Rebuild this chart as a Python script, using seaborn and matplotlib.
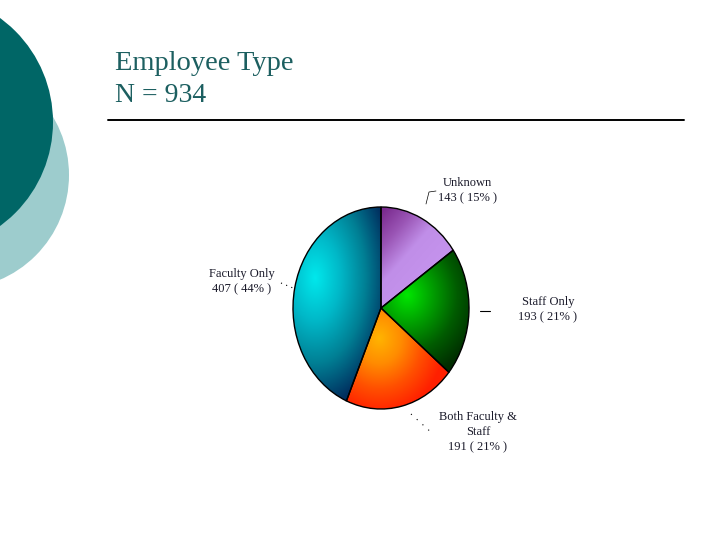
import numpy as np
import matplotlib
matplotlib.use('Agg')
import matplotlib.pyplot as plt
from matplotlib.patches import Circle
import seaborn as sns

title_lines = ['Employee Type', 'N = 934']
categories = ['Unknown', 'Staff Only', 'Both Faculty &\nStaff', 'Faculty Only']
counts = [143, 193, 191, 407]
percents = [15, 21, 21, 44]

sns.set_theme(style='white')
plt.rcParams['font.family'] = ['Liberation Serif', 'DejaVu Serif']

# slice gradients: colours from the slice's bright/dark spot outwards
gradients = [
    sns.blend_palette(['#7a2a8e', '#9a55b5', '#c08ee8', '#c492ec'], as_cmap=True),
    sns.blend_palette(['#00e600', '#00a000', '#005c00', '#002c00'], as_cmap=True),
    sns.blend_palette(['#ffb400', '#ff8c00', '#ff5000', '#ff2000'], as_cmap=True),
    sns.blend_palette(['#00e8ec', '#00b8c8', '#007f94', '#003060'], as_cmap=True),
]
label_pos = [(467, 191), (548, 310), (478, 432), (242, 282)]
leaders = [
    [(426, 204), (429, 192), (436, 191)],
    [(480, 311), (490, 311)],
    [(411, 414), (433, 434)],
    [(281, 283), (293, 288)],
]
leader_styles = ['-', '-', (0, (1, 6)), (0, (1, 4))]
leader_widths = [0.5, 0.8, 0.8, 0.8]

fig = plt.figure(figsize=(7.2, 5.4), dpi=100)

# slide background, in pixels
bg = fig.add_axes([0, 0, 1, 1])
bg.set_xlim(0, 720)
bg.set_ylim(540, 0)
bg.axis('off')
bg.add_patch(Circle((-45, 175), 114, color='#9dcccd', lw=0))
bg.add_patch(Circle((-75.5, 122), 128.5, color='#006666', lw=0))
bg.plot([108, 684], [120, 120], color='black', lw=1.4)
bg.text(115, 63, title_lines[0], fontsize=20.5, color='#1c5f60', va='center')
bg.text(115, 96, title_lines[1], fontsize=20, color='#1c5f60', va='center')

for cat, n, p, (x, y) in zip(categories, counts, percents, label_pos):
    bg.text(x, y, f'{cat}\n{n} ( {p}% )', fontsize=9, color='#1a1a2a',
            ha='center', va='center', linespacing=1.38)
for pts, ls, lw in zip(leaders, leader_styles, leader_widths):
    xs, ys = zip(*pts)
    bg.plot(xs, ys, color='black', lw=lw, ls=ls)

# pie is stretched a bit taller than wide, so axes size sets the ellipse
cx, cy, rx, ry = 381, 308, 88, 101
ax = fig.add_axes([(cx - rx) / 720, 1 - (cy + ry) / 540, 2 * rx / 720, 2 * ry / 540])
wedges, _ = ax.pie(counts, startangle=90, counterclock=False, radius=1,
                   wedgeprops={'edgecolor': 'black', 'linewidth': 1.0, 'facecolor': 'none'})
ax.set_aspect('auto')

gx, gy = np.meshgrid(np.linspace(-1, 1, 300), np.linspace(1, -1, 300))
shades = [
    np.clip(((gx - 0.0) * 0.7 + (0.95 - gy) * 0.7) / 0.75, 0, 1),
    np.clip(np.hypot(gx - 0.3, gy - 0.13) / 0.85, 0, 1),
    np.clip(np.hypot(gx + 0.02, gy + 0.3) / 0.75, 0, 1),
    np.clip(np.hypot((gx + 0.75) * 1.25, (gy - 0.3) * 0.85) / 1.08, 0, 1),
]
for wedge, shade, cmap in zip(wedges, shades, gradients):
    im = ax.imshow(shade, extent=[-1, 1, -1, 1], cmap=cmap, vmin=0, vmax=1,
                   aspect='auto', zorder=0.5)
    im.set_clip_path(wedge.get_path(), wedge.get_transform())
ax.set_xlim(-1, 1)
ax.set_ylim(-1, 1)

fig.savefig('out.png', dpi=100)
